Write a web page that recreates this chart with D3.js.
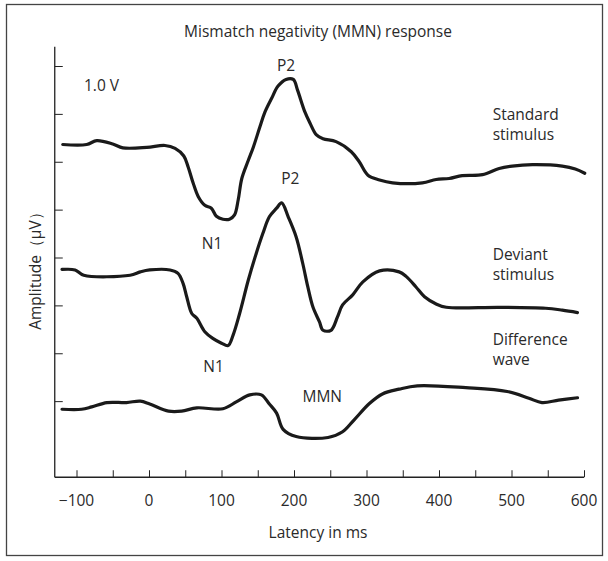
<!DOCTYPE html>
<html><head><meta charset="utf-8">
<script src="https://cdn.jsdelivr.net/npm/d3@7"></script>
<style>body{margin:0;background:#fff;} text{font-family:"Open Sans",Lato,sans-serif;fill:#2a2a2a;}</style>
</head><body><svg id="c" width="608" height="561"></svg>
<script>
// latency (ms) and amplitude (tick units, 1 tick = 1.0 µV scale)
const standardMs = [-119,-86,-72,-50,-36,-3,22,36,48,54,61,68,77,86,93,102,111,118,123,128,137,144,153,160,169,178,189,199,205,215,222,231,240,258,279,290,302,318,336,377,396,414,432,460,483,501,529,570,588,601];
const standardAmp = [6.36,6.36,6.44,6.37,6.29,6.30,6.34,6.28,6.12,5.89,5.55,5.27,5.09,5.03,4.86,4.80,4.80,4.89,5.20,5.65,6.03,6.31,6.73,7.04,7.32,7.58,7.72,7.72,7.49,7.04,6.81,6.56,6.48,6.42,6.21,6.00,5.72,5.62,5.56,5.56,5.63,5.65,5.71,5.73,5.86,5.91,5.94,5.91,5.85,5.76];
const deviantMs = [-120,-102,-90,-26,-12,1,29,40,47,52,59,66,77,88,100,109,116,125,137,148,157,166,176,183,192,203,212,219,226,235,240,251,260,267,281,295,318,345,355,368,380,396,410,483,547,570,591];
const deviantAmp = [3.75,3.74,3.63,3.63,3.70,3.74,3.74,3.67,3.46,3.18,2.83,2.73,2.45,2.31,2.21,2.16,2.38,2.83,3.53,4.09,4.50,4.85,5.03,5.14,4.85,4.43,3.88,3.39,2.97,2.66,2.48,2.48,2.76,3.01,3.22,3.49,3.72,3.70,3.60,3.39,3.18,3.03,2.96,2.96,2.94,2.90,2.85];
const diffMs = [-120,-93,-79,-58,-31,-12,1,27,45,66,102,121,139,155,166,176,185,203,247,267,283,304,322,345,370,437,494,524,542,565,591];
const diffAmp = [0.83,0.83,0.88,0.97,0.97,1.00,0.94,0.79,0.79,0.86,0.84,0.99,1.13,1.13,0.94,0.75,0.41,0.26,0.24,0.36,0.61,0.95,1.15,1.25,1.32,1.28,1.20,1.06,0.97,1.02,1.07];
const xTicks = [-100,0,100,200,300,400,500,600];
const xMinorTicks = [-100,-50,0,50,100,150,200,250,300,350,400,450,500,550,600];
const yTicks = [1,2,3,4,5,6,7,8];
const labels = [
  {t:"P2", ms:189, v:7.89},
  {t:"P2", ms:195, v:5.53},
  {t:"N1", ms:87, v:4.18},
  {t:"N1", ms:89, v:1.61},
  {t:"MMN", ms:239, v:0.99}
];
const seriesLabels = [
  {lines:["Standard","stimulus"], ms:474, v:6.87},
  {lines:["Deviant","stimulus"], ms:474, v:3.95},
  {lines:["Difference","wave"], ms:474, v:2.17}
];

const FS = 15.5;
const svg = d3.select("#c");
svg.append("rect").attr("x",6.5).attr("y",4.5).attr("width",596).attr("height",551)
  .attr("fill","none").attr("stroke","#444").attr("stroke-width",1.3);

const x = d3.scaleLinear().domain([-100,600]).range([76.5,584]);
const y = d3.scaleLinear().domain([0,8]).range([449,66]);
const axisLeftX = x(-130);
const axisBottomY = y(-0.59);
const axisTopY = y(8.4);

// axes
const gx = svg.append("g").attr("transform",`translate(0,${axisBottomY})`)
  .call(d3.axisBottom(x).tickValues(xMinorTicks).tickSize(-7).tickFormat(""));
gx.select(".domain").remove();
gx.selectAll(".tick line").attr("stroke","#222");
svg.append("line").attr("x1",axisLeftX).attr("x2",x(600)).attr("y1",axisBottomY).attr("y2",axisBottomY)
  .attr("stroke","#222").attr("stroke-width",1.3);
svg.selectAll(".xl").data(xTicks).join("text").attr("class","xl")
  .attr("x",d=>x(d)).attr("y",axisBottomY+29).attr("text-anchor","middle")
  .attr("font-size",FS).text(d=>d<0?"\u2212"+Math.abs(d):d);

const gy = svg.append("g").attr("transform",`translate(${axisLeftX},0)`)
  .call(d3.axisRight(y).tickValues(yTicks).tickSize(8).tickFormat(""));
gy.select(".domain").remove();
gy.selectAll(".tick line").attr("stroke","#222");
svg.append("line").attr("x1",axisLeftX).attr("x2",axisLeftX).attr("y1",axisTopY).attr("y2",axisBottomY)
  .attr("stroke","#222").attr("stroke-width",1.3);

// curves
const line = d3.line().x(d=>x(d[0])).y(d=>y(d[1])).curve(d3.curveCatmullRom.alpha(0.5));
[[standardMs,standardAmp],[deviantMs,deviantAmp],[diffMs,diffAmp]].forEach(([ms,amp])=>{
  svg.append("path").datum(ms.map((m,i)=>[m,amp[i]])).attr("d",line)
    .attr("fill","none").attr("stroke","#1a1a1a").attr("stroke-width",3.2)
    .attr("stroke-linejoin","round").attr("stroke-linecap","round");
});

// texts
svg.append("text").attr("x",318).attr("y",37).attr("text-anchor","middle").attr("font-size",FS)
  .text("Mismatch negativity (MMN) response");
svg.append("text").attr("x",84).attr("y",91).attr("font-size",FS).text("1.0 V");
svg.append("text").attr("transform",`translate(41,${y(3.8)}) rotate(-90)`).attr("text-anchor","middle")
  .attr("font-size",FS).text("Amplitude\uFF08\u03BCV\uFF09");
svg.append("text").attr("x",318).attr("y",538).attr("text-anchor","middle")
  .attr("font-size",FS).text("Latency in ms");
labels.forEach(l=>svg.append("text").attr("x",x(l.ms)).attr("y",y(l.v)).attr("text-anchor","middle")
  .attr("font-size",FS).text(l.t));
seriesLabels.forEach(s=>s.lines.forEach((t,i)=>svg.append("text").attr("x",x(s.ms)).attr("y",y(s.v)+i*20)
  .attr("font-size",FS).text(t)));
</script></body></html>
